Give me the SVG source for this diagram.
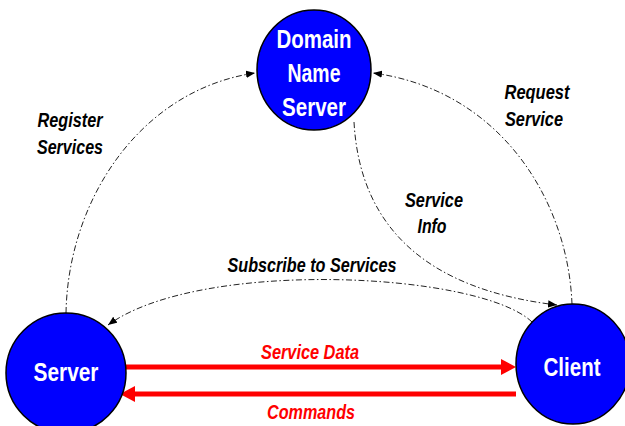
<svg xmlns="http://www.w3.org/2000/svg" width="625" height="426" viewBox="0 0 625 426">
<style>
.node{fill:#0000FF;stroke:#000;stroke-width:1.5}
.ntxt{font-family:"Liberation Sans",Arial,sans-serif;font-weight:bold;font-size:25px;fill:#fff;text-anchor:middle}
.lbl{font-family:"Liberation Sans",Arial,sans-serif;font-weight:bold;font-style:italic;font-size:21px;fill:#000;text-anchor:middle}
.rlbl{font-family:"Liberation Sans",Arial,sans-serif;font-weight:bold;font-style:italic;font-size:21px;fill:#FF0000;text-anchor:middle}
.dd{fill:none;stroke:#222;stroke-width:1;stroke-dasharray:6 2.5 1.5 2.5}
.red{stroke:#FF0000;stroke-width:5;fill:none}
</style>
<defs>
<marker id="ah" viewBox="0 0 10 8" refX="10" refY="4" markerWidth="9" markerHeight="8" markerUnits="userSpaceOnUse" orient="auto">
<path d="M0,0 L10,4 L0,8 Z" fill="#000"/>
</marker>
</defs>
<g id="connectors">
<path class="dd" d="M66,313 C68,200 140,90 255,73" marker-end="url(#ah)"/>
<path class="dd" d="M572,304 C568,200 500,90 373,73" marker-end="url(#ah)"/>
<path class="dd" d="M354,122 C360,230 430,290 557,305" marker-end="url(#ah)"/>
<path class="dd" d="M532,322 C480,272 200,258 108,325" marker-end="url(#ah)"/>
<line class="red" x1="126" y1="367" x2="503" y2="367"/>
<polygon points="501,359 516,367 501,375" fill="#FF0000"/>
<line class="red" x1="516" y1="394" x2="133" y2="394"/>
<polygon points="135,386 120,394 135,402" fill="#FF0000"/>
<text class="lbl" x="70" y="127" textLength="65" lengthAdjust="spacingAndGlyphs">Register</text>
<text class="lbl" x="70" y="154" textLength="66" lengthAdjust="spacingAndGlyphs">Services</text>
<text class="lbl" x="537" y="99" textLength="65" lengthAdjust="spacingAndGlyphs">Request</text>
<text class="lbl" x="534" y="126" textLength="58" lengthAdjust="spacingAndGlyphs">Service</text>
<text class="lbl" x="434" y="207" textLength="58" lengthAdjust="spacingAndGlyphs">Service</text>
<text class="lbl" x="432" y="233" textLength="29" lengthAdjust="spacingAndGlyphs">Info</text>
<text class="lbl" x="312" y="272" textLength="169" lengthAdjust="spacingAndGlyphs">Subscribe to Services</text>
<text class="rlbl" x="310" y="359" textLength="98" lengthAdjust="spacingAndGlyphs">Service Data</text>
<text class="rlbl" x="311" y="419" textLength="88" lengthAdjust="spacingAndGlyphs">Commands</text>
</g>
<g id="dns">
<ellipse class="node" cx="314" cy="70" rx="57" ry="60"/>
<text class="ntxt" x="314" y="48" textLength="75" lengthAdjust="spacingAndGlyphs">Domain</text>
<text class="ntxt" x="314" y="82" textLength="53" lengthAdjust="spacingAndGlyphs">Name</text>
<text class="ntxt" x="314" y="116" textLength="64" lengthAdjust="spacingAndGlyphs">Server</text>
</g>
<g id="server">
<ellipse class="node" cx="66" cy="373" rx="60" ry="60"/>
<text class="ntxt" x="66" y="381" textLength="65" lengthAdjust="spacingAndGlyphs">Server</text>
</g>
<g id="client">
<ellipse class="node" cx="573" cy="364" rx="57" ry="60"/>
<text class="ntxt" x="572" y="376" textLength="57" lengthAdjust="spacingAndGlyphs">Client</text>
</g>
</svg>
